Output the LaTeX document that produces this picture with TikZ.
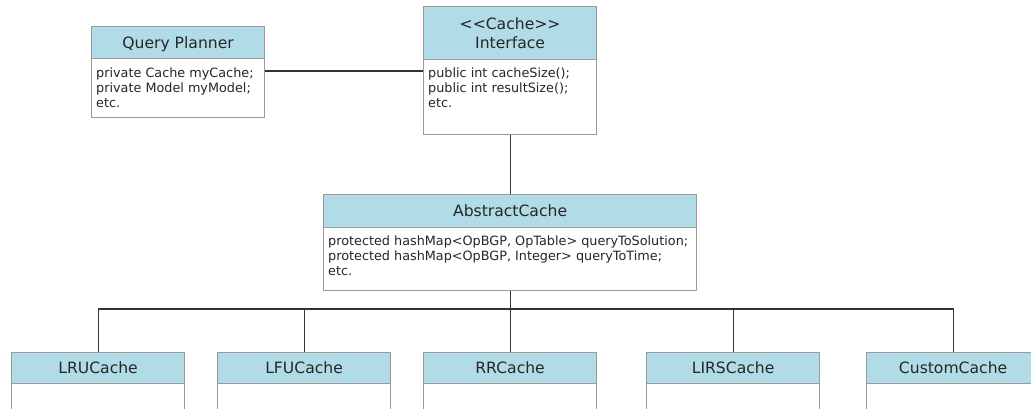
\documentclass[tikz,border=0pt]{standalone}
\usepackage{fontspec}
\setmainfont{DejaVu Sans}[Ligatures=TeXOff]
\usetikzlibrary{calc}

\definecolor{hdrfill}{HTML}{B1DCE7}
\definecolor{boxline}{HTML}{9A9A9A}
\definecolor{wirecol}{HTML}{333333}
\definecolor{txt}{HTML}{262626}

\tikzset{
  hdrbase/.style={draw=boxline, fill=hdrfill, line width=1.2pt, inner sep=0pt,
    anchor=north west, minimum width=173, minimum height=32, text=txt,
    font=\fontsize{15.6}{19}\selectfont},
  hdr/.style={hdrbase, text height=13pt, text depth=2pt},
  bodybox/.style={draw=boxline, fill=white, line width=1.2pt, inner sep=0pt,
    anchor=north west, minimum width=173},
  members/.style={anchor=north west, inner sep=0pt, align=left, text=txt,
    font=\fontsize{12.8}{15}\selectfont},
  wire/.style={draw=wirecol, line width=1.1pt}
}

\begin{document}
\begin{tikzpicture}[x=1pt, y=-1pt]
\useasboundingbox (0,0) rectangle (1031,408);
\clip (0,0) rectangle (1031,408);

% Query planner
\node[bodybox, minimum height=59] (qpb) at (91,58) {};
\node[hdr] (qp) at (91,26) {Query Planner};
\node[members] (qpt) at (96,67) {\strut private Cache myCache;\\private Model myModel;\\etc.};

% Cache interface
\node[bodybox, minimum height=75] (ifb) at (423,59) {};
\node[hdrbase, minimum height=53, align=center] (ifh) at (423,6) {<<Cache>>\\Interface};
\node[members] (ift) at (428,67) {\strut public int cacheSize();\\public int resultSize();\\etc.};

% Abstract cache
\node[bodybox, minimum width=373, minimum height=63] (acb) at (323,227) {};
\node[hdr, minimum width=373, minimum height=33] (ach) at (323,194) {AbstractCache};
\node[members] (act) at (328,235) {\strut protected hashMap<OpBGP, OpTable> queryToSolution;\\protected hashMap<OpBGP, Integer> queryToTime;\\etc.};

% Concrete caches
\foreach \nm/\xx/\lbl in {lru/11/LRUCache, lfu/217/LFUCache, rr/423/RRCache, lirs/646/LIRSCache, cust/866/CustomCache}{
  \node[bodybox, minimum height=60] (\nm b) at (\xx,383) {};
  \node[hdr, minimum height=31] (\nm) at (\xx,352) {\lbl};
}

% Associations and inheritance tree
\draw[wire] ($(qpb.north east)+(0,13)$) coordinate (qpa) -- (qpa -| ifb.west);
\draw[wire] (ifb.south) -- (ach.north);
\coordinate (bus) at (0,309);
\foreach \nm in {lru, lfu, rr, lirs, cust}{
  \draw[wire] (acb.south) -- (acb.south |- bus) -| (\nm.north);
}
\end{tikzpicture}
\end{document}
